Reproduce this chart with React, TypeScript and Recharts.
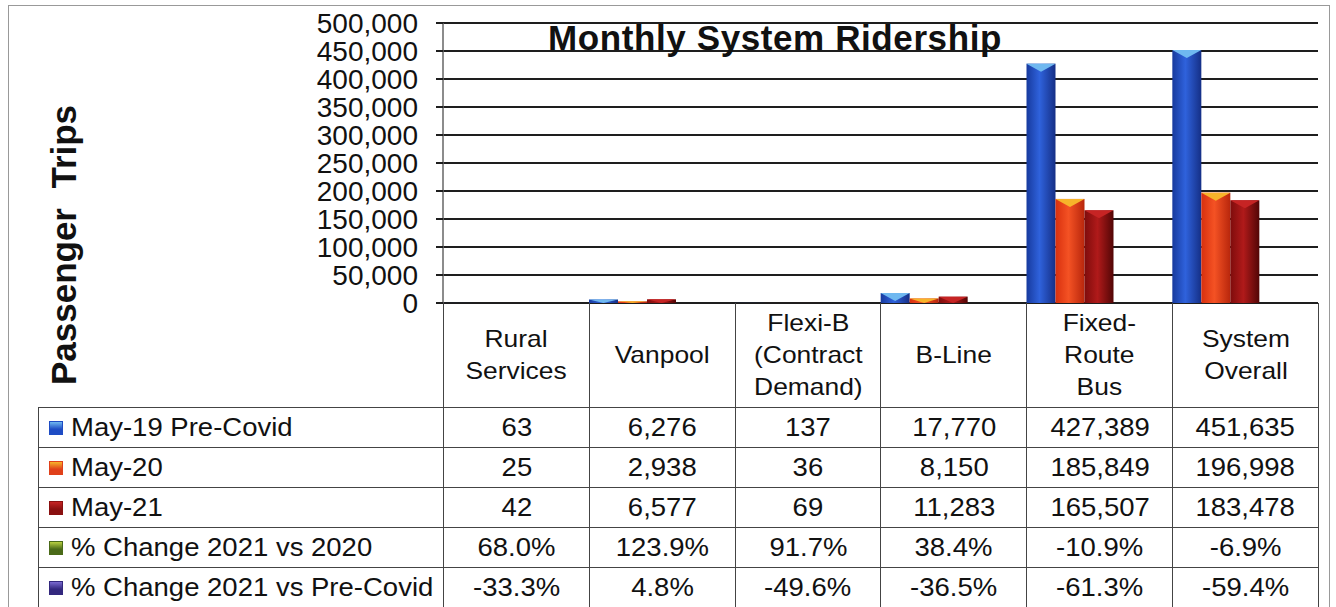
import { BarChart, Bar, XAxis, YAxis, CartesianGrid } from 'recharts';

const categories = ['Rural\nServices', 'Vanpool', 'Flexi-B\n(Contract\nDemand)', 'B-Line', 'Fixed-\nRoute\nBus', 'System\nOverall'];
const may19PreCovid = [63, 6276, 137, 17770, 427389, 451635];
const may20 = [25, 2938, 36, 8150, 185849, 196998];
const may21 = [42, 6577, 69, 11283, 165507, 183478];
const change2021vs2020 = [68.0, 123.9, 91.7, 38.4, -10.9, -6.9];
const change2021vsPre = [-33.3, 4.8, -49.6, -36.5, -61.3, -59.4];
const yTicks = [0, 50000, 100000, 150000, 200000, 250000, 300000, 350000, 400000, 450000, 500000];

const chartData = categories.map((name, i) => ({
  name,
  pre: may19PreCovid[i],
  m20: may20[i],
  m21: may21[i],
}));

const PLOT_LEFT = 443;
const PLOT_RIGHT = 1318;
const COL_W = (PLOT_RIGHT - PLOT_LEFT) / 6;
const FONT = '"Liberation Sans", Arial, sans-serif';

const series = [
  { key: 'pre', grad: 'gBlue', top: '#6fb8f0', edge: ['#173a9e', '#2f62dc', '#152f86'] },
  { key: 'm20', grad: 'gOrange', top: '#f7b42a', edge: ['#d8300e', '#f45224', '#b8260c'] },
  { key: 'm21', grad: 'gRed', top: '#c62424', edge: ['#7e0c0c', '#b01a1a', '#520606'] },
];

const rows = [
  { label: 'May-19 Pre-Covid', values: may19PreCovid.map((v) => v.toLocaleString('en-US')), sw: ['#1e4cc4', '#6fb8f0'] },
  { label: 'May-20', values: may20.map((v) => v.toLocaleString('en-US')), sw: ['#e0401a', '#f7b42a'] },
  { label: 'May-21', values: may21.map((v) => v.toLocaleString('en-US')), sw: ['#8a1010', '#c62424'] },
  { label: '% Change 2021 vs 2020', values: change2021vs2020.map((v) => v.toFixed(1) + '%'), sw: ['#4a6a18', '#b8d040'] },
  { label: '% Change 2021 vs Pre-Covid', values: change2021vsPre.map((v) => v.toFixed(1) + '%'), sw: ['#33287e', '#7a6ad0'] },
];

// excel's 3d columns sit at the left edge of each category, with a lighter top facet
function makeColumn(grad: string, top: string) {
  // eslint-disable-next-line @typescript-eslint/no-explicit-any
  return (props: any) => {
    const { x, y, width, height } = props;
    if (!height || height <= 0) return <g />;
    const px = x - width;
    const tri = Math.min(8, height);
    return (
      <g>
        <rect x={px} y={y} width={width} height={height} fill={`url(#${grad})`} />
        <polygon points={`${px},${y} ${px + width},${y} ${px + width / 2},${y + tri}`} fill={top} />
      </g>
    );
  };
}

// eslint-disable-next-line @typescript-eslint/no-explicit-any
function YTick(props: any) {
  const { x, y, payload } = props;
  return (
    <text x={x} y={y} dy="0.36em" textAnchor="end" fontSize={28} fill="#111" fontFamily={FONT}>
      {payload.value.toLocaleString('en-US')}
    </text>
  );
}

const stretch = (origin: string) => ({
  display: 'inline-block',
  transform: 'scaleX(1.1)',
  transformOrigin: origin,
});

const border = '1.5px solid #444';

export default function App() {
  return (
    <div
      style={{
        position: 'absolute',
        left: 0,
        top: 0,
        width: 1336,
        height: 607,
        background: '#fff',
        overflow: 'hidden',
        fontFamily: FONT,
        color: '#111',
      }}
    >
      <div
        style={{
          position: 'absolute',
          left: 8,
          top: 5,
          width: 1320,
          height: 620,
          border: '1px solid #999',
        }}
      />
      <BarChart
        width={1336}
        height={330}
        data={chartData}
        margin={{ top: 23, right: 1336 - PLOT_RIGHT, left: 0, bottom: 27 }}
        barCategoryGap="20%"
        barGap={0}
        style={{ position: 'absolute', left: 0, top: 0 }}
      >
        <defs>
          {series.map((s) => (
            <linearGradient key={s.grad} id={s.grad} x1="0" y1="0" x2="1" y2="0">
              <stop offset="0%" stopColor={s.edge[0]} />
              <stop offset="45%" stopColor={s.edge[1]} />
              <stop offset="100%" stopColor={s.edge[2]} />
            </linearGradient>
          ))}
        </defs>
        <CartesianGrid vertical={false} stroke="#1e1e1e" strokeWidth={2} />
        <XAxis dataKey="name" hide />
        <YAxis
          width={PLOT_LEFT}
          domain={[0, 500000]}
          ticks={yTicks}
          interval={0}
          tick={<YTick />}
          tickSize={7}
          tickMargin={18}
          tickLine={{ stroke: '#1e1e1e', strokeWidth: 2 }}
          axisLine={{ stroke: '#666', strokeWidth: 1.5 }}
        />
        {series.map((s) => (
          <Bar
            key={s.key}
            dataKey={s.key}
            isAnimationActive={false}
            shape={makeColumn(s.grad, s.top)}
          />
        ))}
      </BarChart>

      <svg
        width={1336}
        height={607}
        style={{ position: 'absolute', left: 0, top: 0, pointerEvents: 'none' }}
      >
        <text x={775} y={50} textAnchor="middle" fontSize={35} fontWeight="bold" letterSpacing={0.6} fontFamily={FONT} fill="#111">
          Monthly System Ridership
        </text>
        <text
          x={76}
          y={245}
          transform="rotate(-90 76 245)"
          textAnchor="middle"
          fontSize={35}
          fontWeight="bold"
          fontFamily={FONT}
          fill="#111"
          style={{ whiteSpace: 'pre' }}
        >
          {'Passenger  Trips'}
        </text>
      </svg>

      <table
        style={{
          position: 'absolute',
          left: 38,
          top: 303,
          borderCollapse: 'collapse',
          tableLayout: 'fixed',
          width: PLOT_RIGHT - 38,
          fontSize: 25,
        }}
      >
        <colgroup>
          <col style={{ width: PLOT_LEFT - 38 }} />
          {categories.map((c) => (
            <col key={c} style={{ width: COL_W }} />
          ))}
        </colgroup>
        <tbody>
          <tr style={{ height: 104 }}>
            <td style={{ padding: 0 }} />
            {categories.map((c) => (
              <td
                key={c}
                style={{
                  border,
                  borderTop: 'none',
                  padding: 0,
                  textAlign: 'center',
                  verticalAlign: 'middle',
                  whiteSpace: 'pre-line',
                  lineHeight: '32px',
                  fontSize: 24,
                }}
              >
                <span style={stretch('center')}>{c}</span>
              </td>
            ))}
          </tr>
          {rows.map((r) => (
            <tr key={r.label} style={{ height: 40 }}>
              <td style={{ border, padding: 0, whiteSpace: 'nowrap' }}>
                <span
                  style={{
                    display: 'inline-block',
                    width: 12,
                    height: 12,
                    marginLeft: 10,
                    marginRight: 8,
                    verticalAlign: 'middle',
                    background: `linear-gradient(180deg, ${r.sw[1]} 0%, ${r.sw[0]} 60%)`,
                    border: '1px solid ' + r.sw[0],
                  }}
                />
                <span style={{ ...stretch('left'), verticalAlign: 'middle' }}>{r.label}</span>
              </td>
              {r.values.map((v, i) => (
                <td key={i} style={{ border, padding: 0, textAlign: 'center' }}>
                  <span style={stretch('center')}>{v}</span>
                </td>
              ))}
            </tr>
          ))}
        </tbody>
      </table>
    </div>
  );
}
